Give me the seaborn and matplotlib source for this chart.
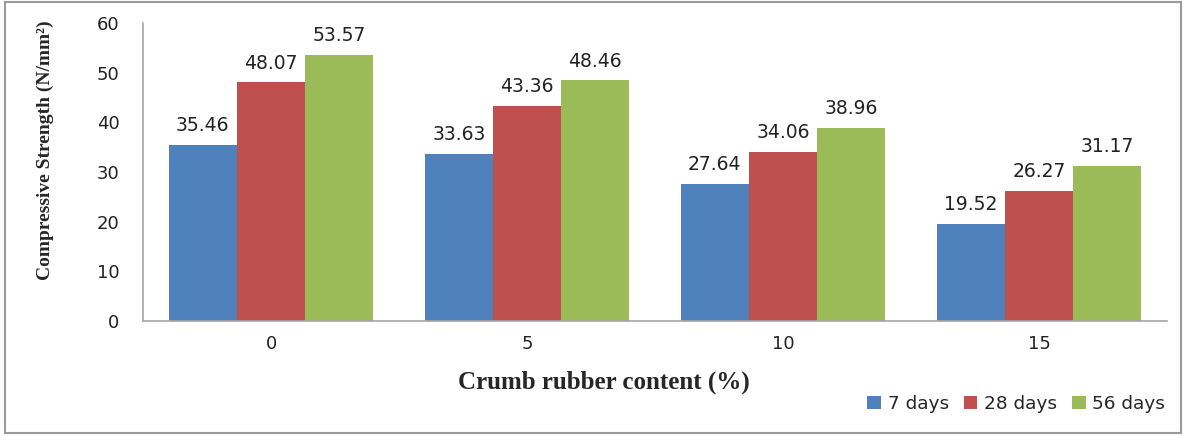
import matplotlib
matplotlib.use("Agg")
import matplotlib.pyplot as plt
import pandas as pd
import seaborn as sns
from matplotlib.patches import Rectangle

# data
rubber_content = ["0", "5", "10", "15"]
ages = ["7 days", "28 days", "56 days"]
strength_7d = [35.46, 33.63, 27.64, 19.52]
strength_28d = [48.07, 43.36, 34.06, 26.27]
strength_56d = [53.57, 48.46, 38.96, 31.17]
y_ticks = [0, 10, 20, 30, 40, 50, 60]

COLORS = ["#4F81BD", "#C0504D", "#9BBB59"]

df = pd.DataFrame({
    "content": rubber_content * 3,
    "age": [a for a in ages for _ in rubber_content],
    "strength": strength_7d + strength_28d + strength_56d,
})

sns.set_theme(style="white")
plt.rcParams["font.family"] = ["DejaVu Sans"]

fig = plt.figure(figsize=(11.85, 4.36), dpi=100)
ax = fig.add_axes([0.1207, 0.2638, 0.9848 - 0.1207, 0.9472 - 0.2638])

sns.barplot(data=df, x="content", y="strength", hue="age", order=rubber_content,
            hue_order=ages, palette=COLORS, width=0.8, saturation=1,
            linewidth=0, ax=ax, legend=True)

for cont in ax.containers:
    ax.bar_label(cont, fmt="%.2f", padding=7, fontsize=13.5, color="#222222")

ax.set_xlim(-0.5, 3.5)
ax.set_ylim(0, 60)
ax.set_yticks(y_ticks)
ax.tick_params(axis="both", length=0, labelsize=13, colors="#222222")
ax.tick_params(axis="x", pad=10)
ax.tick_params(axis="y", pad=17)
for s in ["top", "right"]:
    ax.spines[s].set_visible(False)
for s in ["left", "bottom"]:
    ax.spines[s].set_color("#A6A6A6")
    ax.spines[s].set_linewidth(1.2)

ax.set_xlabel("")
ax.set_ylabel("")
fig.text(0.038, 0.656, "Compressive Strength (N/mm²)", rotation=90,
         ha="center", va="center", fontsize=14, fontweight="bold",
         family="Liberation Serif")
fig.text(0.51, 0.124, "Crumb rubber content (%)", ha="center", va="center",
         fontsize=18, fontweight="bold", family="Liberation Serif")

leg = ax.legend(loc="center right", bbox_to_anchor=(0.983, 0.073),
                bbox_transform=fig.transFigure, ncol=3, frameon=False,
                handlelength=0.75, handleheight=0.75, handletextpad=0.35,
                columnspacing=0.8, borderpad=0, borderaxespad=0,
                prop={"family": "DejaVu Sans", "size": 13.3})

# gray outer frame
fig.patches.append(Rectangle((0.004, 0.006), 0.993, 0.99, transform=fig.transFigure,
                             fill=False, edgecolor="#9A9A9A", linewidth=1.5))

fig.savefig("out.png", dpi=100)
